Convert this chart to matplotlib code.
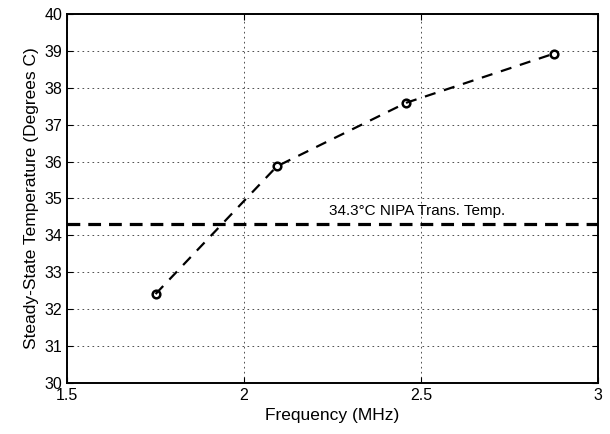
import matplotlib
matplotlib.use('Agg')
import matplotlib.pyplot as plt

# Measured steady-state temperatures
freq_mhz = [1.75, 2.093, 2.458, 2.875]
temp_c = [32.41, 35.87, 37.59, 38.92]

# NIPA transition temperature
nipa_temp = 34.3
nipa_label = '34.3°C NIPA Trans. Temp.'

x_ticks = [1.5, 2, 2.5, 3]
x_tick_labels = ['1.5', '2', '2.5', '3']
y_ticks = list(range(30, 41))


def main():
    plt.rcParams['font.family'] = ['Liberation Sans', 'DejaVu Sans']

    fig = plt.figure(figsize=(6.1, 4.34), dpi=100)
    ax = fig.add_axes([0.110, 0.1175, 0.870, 0.8505])

    # Data curve
    ax.plot(freq_mhz, temp_c, color='black', linestyle=(0, (5, 4)), linewidth=1.6,
            marker='o', markersize=5.5, markerfacecolor='none', markeredgewidth=1.8)

    # Transition temperature line
    ax.axhline(nipa_temp, color='black', linestyle=(0, (4, 2.5)), linewidth=2.3)
    ax.text(2.49, nipa_temp + 0.18, nipa_label, ha='center', va='bottom', fontsize=11)

    ax.set_xlim(1.5, 3)
    ax.set_ylim(30, 40)
    ax.set_xticks(x_ticks)
    ax.set_xticklabels(x_tick_labels)
    ax.set_yticks(y_ticks)

    ax.grid(True, color='#333333', linestyle=(0, (2, 4)), linewidth=0.6)
    ax.tick_params(direction='in', top=True, right=True, labelsize=11.5, length=4)
    for sp in ax.spines.values():
        sp.set_linewidth(1.4)

    ax.set_xlabel('Frequency (MHz)', fontsize=12.5)
    ax.set_ylabel('Steady-State Temperature (Degrees C)', fontsize=12.5)

    fig.savefig('out.png', dpi=100)


if __name__ == '__main__':
    main()
